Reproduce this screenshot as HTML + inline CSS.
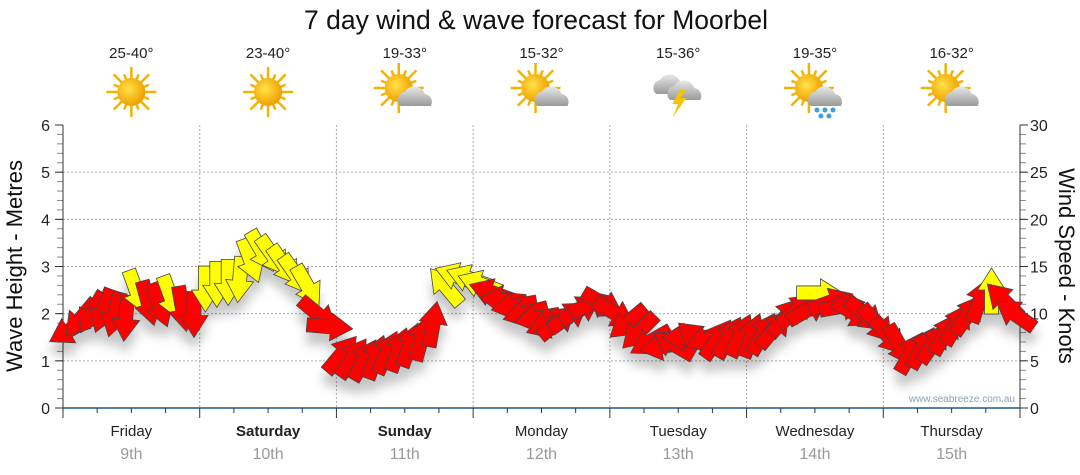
<!DOCTYPE html>
<html><head><meta charset="utf-8"><style>
body{margin:0;background:#fff;font-family:"Liberation Sans",sans-serif;}
svg{display:block}
</style></head><body>
<svg id="chart" width="1080" height="475" xmlns="http://www.w3.org/2000/svg" font-family="Liberation Sans, sans-serif">
<defs>
<filter id="sh" x="-20%" y="-50%" width="140%" height="200%"><feDropShadow dx="0" dy="12" stdDeviation="5" flood-color="#000" flood-opacity="0.22"/></filter>
<radialGradient id="sunG" cx="0.4" cy="0.4" r="0.6"><stop offset="0" stop-color="#ffe24a"/><stop offset="1" stop-color="#f0a000"/></radialGradient>
<linearGradient id="cloudG" x1="0" y1="0" x2="0" y2="1"><stop offset="0" stop-color="#e8e8e8"/><stop offset="1" stop-color="#9a9a9a"/></linearGradient>
</defs>
<text x="536" y="29" font-size="26.5" text-anchor="middle" fill="#111">7 day wind &amp; wave forecast for Moorbel</text>
<g id="header"></g>
<g id="grid"></g>
<g id="axes"></g>
<g id="arrows" filter="url(#sh)"></g>
<text x="1015" y="402" font-size="10" text-anchor="end" fill="#8aa0b8">www.seabreeze.com.au</text>
<text transform="translate(22,266) rotate(-90)" font-size="22" text-anchor="middle" fill="#111">Wave Height - Metres</text>
<text transform="translate(1059,266) rotate(90)" font-size="22" text-anchor="middle" fill="#111">Wind Speed - Knots</text>
</svg>
<script>
const days=["Friday","Saturday","Sunday","Monday","Tuesday","Wednesday","Thursday"];
const dates=["9th","10th","11th","12th","13th","14th","15th"];
const boldDays=[false,true,true,false,false,false,false];
const temps=["25-40°","23-40°","19-33°","15-32°","15-36°","19-35°","16-32°"];
const icons=["sun","sun","suncloud","suncloud","storm","rain","suncloud"];
const waveTicks=[0,1,2,3,4,5,6];
const windTicks=[0,5,10,15,20,25,30];
const windKnots=[8.2,9.4,10,10.2,9.8,9.4,12.2,11,10.8,11.6,10.4,9.8,
12.5,13,13.2,13.5,15.5,16.5,16,15,14,12.8,9.8,8.6,
5.8,5.4,5.2,5.5,6,6.3,6.8,7.5,9,13,14,13.8,
13.2,12.3,11.5,10.8,10,9.5,8.8,9.2,9.8,10.5,11,11,
10,9,8,7,6.5,6.8,7.5,7.5,7.3,7.4,7.6,7.8,
7.8,8,8.5,9.8,10.5,10.5,12.2,11.3,10.8,10,9.8,8.8,
7.5,6.5,6,6.5,7,8,9,10,11.5,12.5,11.5,10];
const windDir=[240,220,210,200,195,185,160,165,160,160,170,180,
180,180,180,185,160,150,145,145,145,150,130,95,
40,35,30,20,25,20,20,15,10,320,290,290,
290,290,275,260,255,260,250,50,55,60,70,120,
120,230,225,240,260,300,270,310,250,35,30,25,
20,30,40,40,50,60,90,70,80,120,130,140,
140,150,30,30,35,30,30,35,20,0,315,305];
const strong=[0,0,0,0,0,0,1,0,0,1,0,0,
1,1,1,1,1,1,1,1,1,1,0,0,
0,0,0,0,0,0,0,0,0,1,1,1,
1,0,0,0,0,0,0,0,0,0,0,0,
0,0,0,0,0,0,0,0,0,0,0,0,
0,0,0,0,0,0,1,0,0,0,0,0,
0,0,0,0,0,0,0,0,0,1,0,0];

const NS="http://www.w3.org/2000/svg";
const X0=63,X1=1020,Y0=408,Y1=125,HOURS=168;
const xT=t=>X0+t*(X1-X0)/HOURS;
const yW=m=>Y0-m*(Y0-Y1)/6;
const yK=k=>Y0-k*(Y0-Y1)/30;
function mk(tag,attrs,parent){const e=document.createElementNS(NS,tag);for(const k in attrs)e.setAttribute(k,attrs[k]);parent.appendChild(e);return e;}
const grid=document.getElementById('grid'),axes=document.getElementById('axes'),hdr=document.getElementById('header'),arr=document.getElementById('arrows');

waveTicks.forEach(m=>{
  if(m>0&&m<6){const l=mk('line',{x1:X0,x2:X1,y1:yW(m),y2:yW(m),stroke:'#aaa','stroke-dasharray':'2,2'},grid);
  
  }
  const t=mk('text',{x:50,y:yW(m)+6,'font-size':16,'text-anchor':'end',fill:'#222'},axes);t.textContent=m;
  
  
});
for(let i=1;i<30;i++){const y=Y0-i*(Y0-Y1)/30;mk('line',{x1:X0-6,x2:X0,y1:y,y2:y,stroke:'#888'},axes);mk('line',{x1:X1,x2:X1+6,y1:y,y2:y,stroke:'#888'},axes);}
windTicks.forEach(k=>{
  mk('line',{x1:X1,x2:X1+8,y1:yK(k),y2:yK(k),stroke:'#333'},axes);
  mk('line',{x1:X0-8,x2:X0,y1:yK(k),y2:yK(k),stroke:'#333'},axes);
  const t=mk('text',{x:1030,y:yK(k)+6,'font-size':16,fill:'#222'},axes);t.textContent=k;
  
  
});
for(let d=1;d<7;d++){const x=xT(d*24);const l=mk('line',{x1:x,x2:x,y1:Y1,y2:Y0,stroke:'#aaa','stroke-dasharray':'2,2'},grid);
  
  }
mk('line',{x1:X0,x2:X0,y1:Y1,y2:Y0,stroke:'#333'},axes);
mk('line',{x1:X1,x2:X1,y1:Y1,y2:Y0,stroke:'#333'},axes);
mk('line',{x1:X0,x2:X1,y1:Y0,y2:Y0,stroke:'#1c5a8a','stroke-width':1.5},axes);
for(let h=0;h<=HOURS;h+=6){const x=xT(h);mk('line',{x1:x,x2:x,y1:Y0,y2:Y0+(h%24==0?10:5),stroke:'#333'},axes);}
days.forEach((d,i)=>{
  const cx=xT(i*24+12);
  const a=mk('text',{x:cx,y:436,'font-size':15,'text-anchor':'middle',fill:'#222','font-weight':boldDays[i]?'bold':'normal'},axes);a.textContent=d;
  
  
  const b=mk('text',{x:cx,y:459,'font-size':16,'text-anchor':'middle',fill:'#999'},axes);b.textContent=dates[i];
  
  
  const t=mk('text',{x:cx,y:58,'font-size':15,'text-anchor':'middle',fill:'#222'},hdr);t.textContent=temps[i];
  
  
  const g=mk('g',{transform:`translate(${cx},92)`},hdr);
  
  
  const ic=icons[i];
  if(ic!="storm"){
    const sx=ic=="sun"?0:-6,sy=ic=="sun"?0:-4;
    for(let r=0;r<16;r++){const an=r*Math.PI/8,L=r%2?19:25;mk('line',{x1:sx+Math.cos(an)*12,y1:sy+Math.sin(an)*12,x2:sx+Math.cos(an)*L,y2:sy+Math.sin(an)*L,stroke:'#f2b300','stroke-width':2.5},g);}
    mk('circle',{cx:sx,cy:sy,r:14,fill:'url(#sunG)'},g);
  }
  if(ic=="suncloud"||ic=="rain"){
    mk('path',{d:'M-4,14 a8,8 0 0 1 4,-14 a11,11 0 0 1 20,2 a8,8 0 0 1 6,12 z',fill:'url(#cloudG)'},g);
  }
  if(ic=="rain"){[[2,18],[10,18],[18,18],[6,24],[14,24]].forEach(p=>mk('circle',{cx:p[0],cy:p[1],r:2.5,fill:'#3aa0e0'},g));}
  if(ic=="storm"){
    mk('path',{d:'M-22,2 a8,8 0 0 1 4,-14 a11,11 0 0 1 20,2 a8,8 0 0 1 4,12 z',fill:'url(#cloudG)'},g);
    mk('path',{d:'M-8,8 a8,8 0 0 1 4,-14 a11,11 0 0 1 20,2 a8,8 0 0 1 6,12 z',fill:'url(#cloudG)'},g);
    mk('path',{d:'M2,-2 L-6,12 L0,12 L-6,26 L8,6 L2,6 L8,-2 z',fill:'#f5c400'},g);
  }
});
windKnots.forEach((k,i)=>{
  const t=i*2+1,x=xT(t),y=yK(k);
  const rot=windDir[i]-90;
  const p=mk('path',{d:'M-24,-7 L0,-7 L0,-14 L22,0 L0,14 L0,7 L-24,7 Z',transform:`translate(${x},${y}) rotate(${rot})`,fill:strong[i]?'#ffff00':'#ff0000',stroke:'#444','stroke-width':0.8},arr);
  
  
});
</script>
</body></html>
